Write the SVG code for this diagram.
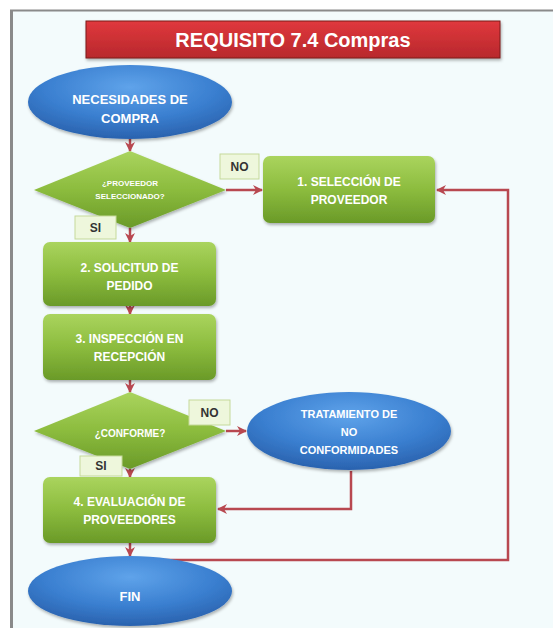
<svg xmlns="http://www.w3.org/2000/svg" width="553" height="628" viewBox="0 0 553 628">
<defs>
<linearGradient id="gGreen" x1="0" y1="0" x2="0" y2="1">
<stop offset="0" stop-color="#aad45e"/>
<stop offset="0.5" stop-color="#8cbc3e"/>
<stop offset="1" stop-color="#6a9a28"/>
</linearGradient>
<radialGradient id="gBlue" cx="0.5" cy="0.3" r="0.7">
<stop offset="0" stop-color="#5fa3ea"/>
<stop offset="0.6" stop-color="#3a7fd0"/>
<stop offset="1" stop-color="#2a62ae"/>
</radialGradient>
<linearGradient id="gRed" x1="0" y1="0" x2="0" y2="1">
<stop offset="0" stop-color="#e0383d"/>
<stop offset="1" stop-color="#b8282c"/>
</linearGradient>
<marker id="arr" viewBox="0 0 10 10" refX="9" refY="5" markerWidth="4" markerHeight="4" orient="auto" markerUnits="strokeWidth">
<path d="M0,0 L10,5 L0,10 L3,5 z" fill="#b84850"/>
</marker>
<filter id="sh" x="-10%" y="-10%" width="130%" height="140%">
<feDropShadow dx="1" dy="2" stdDeviation="1.5" flood-color="#000" flood-opacity="0.3"/>
</filter>
</defs>
<style>
.box{fill:url(#gGreen);filter:url(#sh)}
.ell{fill:url(#gBlue);filter:url(#sh)}
.t{font-family:"Liberation Sans",Arial,sans-serif;font-weight:bold;fill:#ffffff;text-anchor:middle;dominant-baseline:central}
.lbl{fill:#eef7dc;stroke:#c5d99a;stroke-width:1}
.lt{font-family:"Liberation Sans",Arial,sans-serif;font-weight:bold;fill:#333;text-anchor:middle;dominant-baseline:central;font-size:12px}
.c{fill:none;stroke:#b84850;stroke-width:2.5}
</style>
<rect x="0" y="0" width="553" height="628" fill="#ffffff"/>
<rect x="12" y="11" width="541" height="617" fill="#f3fbfc"/>
<line x1="10" y1="10.5" x2="553" y2="10.5" stroke="#8a8a8a" stroke-width="2"/>
<line x1="11.5" y1="10" x2="11.5" y2="628" stroke="#8a8a8a" stroke-width="3"/>

<g id="title">
<rect x="86" y="21" width="414" height="37" fill="url(#gRed)" stroke="#7a1c1c" stroke-width="1" filter="url(#sh)"/>
<text class="t" x="293" y="40" font-size="20">REQUISITO 7.4 Compras</text>
</g>

<g id="connectors">
<line class="c" x1="130" y1="139" x2="130" y2="151" marker-end="url(#arr)"/>
<line class="c" x1="226" y1="190" x2="262" y2="190" marker-end="url(#arr)"/>
<line class="c" x1="130" y1="228" x2="130" y2="242" marker-end="url(#arr)"/>
<line class="c" x1="130" y1="306" x2="130" y2="314" marker-end="url(#arr)"/>
<line class="c" x1="130" y1="380" x2="130" y2="392" marker-end="url(#arr)"/>
<line class="c" x1="226" y1="431" x2="246" y2="431" marker-end="url(#arr)"/>
<line class="c" x1="130" y1="469" x2="130" y2="477" marker-end="url(#arr)"/>
<polyline class="c" points="351,471 351,509 218,509" marker-end="url(#arr)"/>
<line class="c" x1="130" y1="543" x2="130" y2="556" marker-end="url(#arr)"/>
<polyline class="c" points="130,560 508,560 508,190 437,190" marker-end="url(#arr)"/>
</g>

<g id="n_necesidades">
<ellipse class="ell" cx="130" cy="102" rx="102" ry="37"/>
<text class="t" x="130" y="99" font-size="13">NECESIDADES DE</text>
<text class="t" x="130" y="118" font-size="13">COMPRA</text>
</g>

<g id="d_proveedor">
<polygon class="box" points="130,151 226,190 130,228 34,190"/>
<text class="t" x="130" y="183" font-size="8">¿PROVEEDOR</text>
<text class="t" x="130" y="196" font-size="8">SELECCIONADO?</text>
</g>

<g id="l_no1">
<rect class="lbl" x="220" y="154" width="39" height="25"/>
<text class="lt" x="239.5" y="166.5">NO</text>
</g>

<g id="l_si1">
<rect class="lbl" x="75" y="216" width="41" height="23"/>
<text class="lt" x="95.5" y="227.5">SI</text>
</g>

<g id="n_seleccion">
<rect class="box" x="263" y="156" width="172" height="67" rx="7"/>
<text class="t" x="349" y="182" font-size="12">1. SELECCIÓN DE</text>
<text class="t" x="349" y="200" font-size="12">PROVEEDOR</text>
</g>

<g id="n_solicitud">
<rect class="box" x="43" y="242" width="173" height="64" rx="7"/>
<text class="t" x="129.5" y="268" font-size="12">2. SOLICITUD DE</text>
<text class="t" x="129.5" y="286" font-size="12">PEDIDO</text>
</g>

<g id="n_inspeccion">
<rect class="box" x="43" y="314" width="173" height="66" rx="7"/>
<text class="t" x="129.5" y="339" font-size="12">3. INSPECCIÓN EN</text>
<text class="t" x="129.5" y="357" font-size="12">RECEPCIÓN</text>
</g>

<g id="d_conforme">
<polygon class="box" points="130,392 226,431 130,469 34,431"/>
<text class="t" x="130" y="433" font-size="10">¿CONFORME?</text>
</g>

<g id="l_no2">
<rect class="lbl" x="189" y="400" width="41" height="25"/>
<text class="lt" x="209.5" y="412.5">NO</text>
</g>

<g id="l_si2">
<rect class="lbl" x="80" y="456" width="42" height="20"/>
<text class="lt" x="101" y="466">SI</text>
</g>

<g id="n_tratamiento">
<ellipse class="ell" cx="349" cy="431" rx="102" ry="39"/>
<text class="t" x="349" y="414" font-size="11">TRATAMIENTO  DE</text>
<text class="t" x="349" y="432" font-size="11">NO</text>
<text class="t" x="349" y="450" font-size="11">CONFORMIDADES</text>
</g>

<g id="n_evaluacion">
<rect class="box" x="43" y="477" width="173" height="66" rx="7"/>
<text class="t" x="129.5" y="502" font-size="12">4. EVALUACIÓN DE</text>
<text class="t" x="129.5" y="520" font-size="12">PROVEEDORES</text>
</g>

<g id="n_fin">
<ellipse class="ell" cx="130" cy="591" rx="102" ry="35"/>
<text class="t" x="130" y="596" font-size="13">FIN</text>
</g>
</svg>
